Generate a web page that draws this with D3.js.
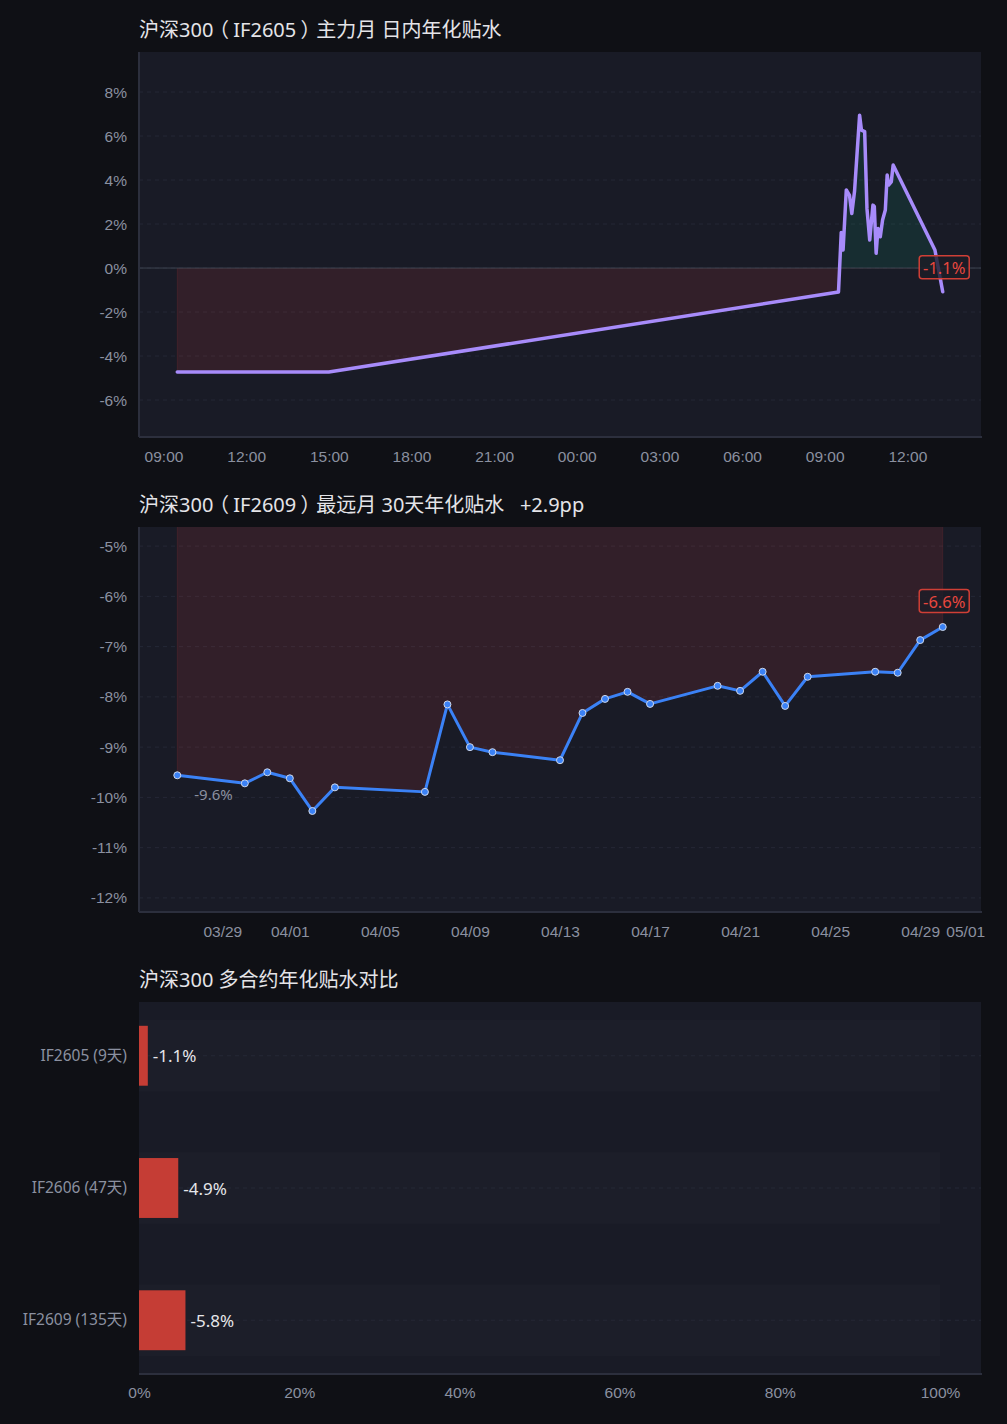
<html>
<head>
<meta charset="utf-8">
<title>沪深300 年化贴水</title>
<script src="https://cdn.jsdelivr.net/npm/d3@7"></script>
<style>
  body { margin: 0; background: #0f1015; }
  svg { display: block; font-family: "Noto Sans", "Noto Sans CJK SC", sans-serif; }
  .tick text { fill: #8b90a0; font-size: 15.5px; }
  .title { fill: #e4e4e8; font-size: 20px; white-space: pre; font-family: "Noto Sans", "Noto Sans CJK SC", sans-serif; }
  .title .br { font-family: "Noto Sans CJK SC", sans-serif; font-feature-settings: "palt" 1; }
</style>
</head>
<body>
<div id="chart"></div>
<script>
// ---- chart 1: IF2605 intraday annualised basis (%)
var intraTimes = [
  "2026-04-29 09:30", "2026-04-29 15:00",
  "2026-04-30 09:30", "2026-04-30 09:36", "2026-04-30 09:40", "2026-04-30 09:47",
  "2026-04-30 09:54", "2026-04-30 09:59", "2026-04-30 10:05", "2026-04-30 10:16",
  "2026-04-30 10:20", "2026-04-30 10:27", "2026-04-30 10:32", "2026-04-30 10:38",
  "2026-04-30 10:45", "2026-04-30 10:48", "2026-04-30 10:52", "2026-04-30 10:56",
  "2026-04-30 11:01", "2026-04-30 11:06", "2026-04-30 11:12", "2026-04-30 11:16",
  "2026-04-30 11:19", "2026-04-30 11:25", "2026-04-30 11:29", "2026-04-30 13:00",
  "2026-04-30 13:17"
];
var intraValues = [
  -4.73, -4.73,
  -1.09, 1.62, 0.82, 3.55,
  3.30, 2.48, 3.50, 6.95,
  6.27, 6.20, 2.70, 1.27,
  2.86, 2.80, 0.67, 1.80,
  1.42, 2.18, 2.64, 4.23,
  3.77, 3.92, 4.68, 0.82,
  -1.08
];
var intraYTicks = [-6, -4, -2, 0, 2, 4, 6, 8];

// ---- chart 2: IF2609 30-day annualised basis (%)
var dailyDates = [
  "2026-03-27", "2026-03-30", "2026-03-31", "2026-04-01", "2026-04-02", "2026-04-03",
  "2026-04-07", "2026-04-08", "2026-04-09", "2026-04-10", "2026-04-13", "2026-04-14",
  "2026-04-15", "2026-04-16", "2026-04-17", "2026-04-20", "2026-04-21", "2026-04-22",
  "2026-04-23", "2026-04-24", "2026-04-27", "2026-04-28", "2026-04-29", "2026-04-30"
];
var dailyValues = [
  -9.56, -9.72, -9.50, -9.62, -10.27, -9.80,
  -9.89, -8.15, -9.00, -9.10, -9.26, -8.32,
  -8.04, -7.90, -8.14, -7.78, -7.88, -7.50,
  -8.18, -7.60, -7.50, -7.52, -6.87, -6.61
];
var dailyYTicks = [-12, -11, -10, -9, -8, -7, -6, -5];

// ---- chart 3: contracts comparison
var contracts = ["IF2605 (9天)", "IF2606 (47天)", "IF2609 (135天)"];
var contractValues = [-1.1, -4.9, -5.8];
var barXTicks = [0, 20, 40, 60, 80, 100];

var W = 1007, H = 1424;
var left = 139, right = 981;
var bg = "#191b26", gridColor = "#252836", axisColor = "#2c2f3d";

var svg = d3.select("#chart").append("svg").attr("width", W).attr("height", H);
svg.append("rect").attr("width", W).attr("height", H).attr("fill", "#0f1015");

function padExtent(ext, f) {
  var span = ext[1] - ext[0];
  return [new Date(+ext[0] - span * f), new Date(+ext[1] + span * f)];
}

function frame(top, bottom, title, id) {
  var t = svg.append("text").attr("class", "title").attr("x", left).attr("y", top - 15);
  // full-width brackets: proportional glyph, padded back out to a full em so it sits centred
  var carry = 0;
  title.split(/([（）])/).forEach(function(part) {
    if (!part) return;
    var s = t.append("tspan").text(part);
    if (carry) s.attr("dx", carry);
    carry = 0;
    if (part === "（" || part === "）") {
      s.attr("class", "br");
      var pad = Math.max(0, (20 - s.node().getComputedTextLength()) / 2);
      s.attr("dx", pad);
      carry = pad;
    }
  });
  svg.append("rect").attr("x", left).attr("y", top).attr("width", right - left)
    .attr("height", bottom - top).attr("fill", bg);
  svg.append("clipPath").attr("id", id).append("rect")
    .attr("x", left).attr("y", top).attr("width", right - left).attr("height", bottom - top);
}

function axisLines(top, bottom) {
  svg.append("line").attr("x1", left).attr("x2", left).attr("y1", top).attr("y2", bottom)
    .attr("stroke", axisColor).attr("stroke-width", 2);
  svg.append("line").attr("x1", left).attr("x2", right + 1).attr("y1", bottom).attr("y2", bottom)
    .attr("stroke", axisColor).attr("stroke-width", 2);
}

function yAxisGrid(y, ticks, top, bottom) {
  svg.append("g").selectAll("line").data(ticks).enter().append("line")
    .attr("x1", left).attr("x2", right).attr("y1", function(d) { return y(d); })
    .attr("y2", function(d) { return y(d); })
    .attr("stroke", gridColor).attr("stroke-dasharray", "4,4");
  var g = svg.append("g").attr("transform", "translate(" + left + ",0)")
    .call(d3.axisLeft(y).tickValues(ticks).tickSize(0).tickPadding(12)
      .tickFormat(function(d) { return d + "%"; }));
  g.select(".domain").remove();
}

function valueLabel(cx, cy, text) {
  var g = svg.append("g");
  g.append("rect").attr("x", cx - 25).attr("y", cy - 12).attr("width", 50).attr("height", 23)
    .attr("rx", 3).attr("fill", "#1b1d27").attr("fill-opacity", 0.8)
    .attr("stroke", "#cf3f36").attr("stroke-width", 1.5);
  g.append("text").attr("x", cx).attr("y", cy).attr("text-anchor", "middle")
    .attr("dominant-baseline", "central").attr("fill", "#e8473e").attr("font-size", 16.5).text(text);
}

// ================= chart 1 =================
(function() {
  var top = 52, bottom = 437;
  frame(top, bottom, "沪深300（IF2605）主力月 日内年化贴水", "clip1");
  var parse = d3.timeParse("%Y-%m-%d %H:%M");
  var data = intraTimes.map(function(t, i) { return { t: parse(t), v: intraValues[i] }; });
  var x = d3.scaleTime().domain(padExtent(d3.extent(data, function(d) { return d.t; }), 0.05))
    .range([left, right]);
  var y = d3.scaleLinear().domain([-7.68, 9.82]).range([bottom, top]);

  yAxisGrid(y, intraYTicks, top, bottom);

  var y0 = y(0);
  var defs = svg.append("defs");
  defs.append("clipPath").attr("id", "pos1").append("rect")
    .attr("x", left).attr("y", top).attr("width", right - left).attr("height", y0 - top);
  defs.append("clipPath").attr("id", "neg1").append("rect")
    .attr("x", left).attr("y", y0).attr("width", right - left).attr("height", bottom - y0);

  var area = d3.area().x(function(d) { return x(d.t); }).y0(y0).y1(function(d) { return y(d.v); });
  svg.append("path").datum(data).attr("d", area).attr("clip-path", "url(#pos1)")
    .attr("fill", "rgba(16,185,129,0.12)");
  svg.append("path").datum(data).attr("d", area).attr("clip-path", "url(#neg1)")
    .attr("fill", "rgba(239,68,68,0.12)").attr("stroke", "rgba(239,68,68,0.12)");

  svg.append("line").attr("x1", left).attr("x2", right).attr("y1", y0).attr("y2", y0)
    .attr("stroke", "#3d4450").attr("stroke-width", 1);

  svg.append("path").datum(data)
    .attr("fill", "none").attr("stroke", "#a78bfa").attr("stroke-width", 3.5)
    .attr("stroke-linejoin", "round").attr("stroke-linecap", "round")
    .attr("d", d3.line().x(function(d) { return x(d.t); }).y(function(d) { return y(d.v); }));

  axisLines(top, bottom);
  var gx = svg.append("g").attr("transform", "translate(0," + bottom + ")")
    .call(d3.axisBottom(x).ticks(d3.timeHour.every(3)).tickSize(0).tickPadding(14)
      .tickFormat(d3.timeFormat("%H:%M")));
  gx.select(".domain").remove();

  var last = data[data.length - 1];
  valueLabel(x(last.t) + 1.5, y(last.v) - 24, last.v.toFixed(1) + "%");
})();

// ================= chart 2 =================
(function() {
  var top = 527, bottom = 912;
  frame(top, bottom, "沪深300（IF2609）最远月 30天年化贴水   +2.9pp", "clip2");
  var parse = d3.timeParse("%Y-%m-%d");
  var data = dailyDates.map(function(t, i) { return { t: parse(t), v: dailyValues[i] }; });
  var x = d3.scaleTime().domain(padExtent(d3.extent(data, function(d) { return d.t; }), 0.05))
    .range([left, right]);
  var y = d3.scaleLinear().domain([-12.28, -4.62]).range([bottom, top]);

  yAxisGrid(y, dailyYTicks, top, bottom);

  svg.append("path").datum(data).attr("clip-path", "url(#clip2)")
    .attr("fill", "rgba(239,68,68,0.12)").attr("stroke", "rgba(239,68,68,0.12)")
    .attr("d", d3.area().x(function(d) { return x(d.t); }).y0(y(0)).y1(function(d) { return y(d.v); }));

  svg.append("path").datum(data)
    .attr("fill", "none").attr("stroke", "#3b82f6").attr("stroke-width", 3)
    .attr("stroke-linejoin", "round")
    .attr("d", d3.line().x(function(d) { return x(d.t); }).y(function(d) { return y(d.v); }));

  svg.append("g").selectAll("circle").data(data).enter().append("circle")
    .attr("cx", function(d) { return x(d.t); }).attr("cy", function(d) { return y(d.v); })
    .attr("r", 3.5).attr("fill", "#3b82f6").attr("stroke", "#cfd8ea").attr("stroke-width", 1);

  axisLines(top, bottom);
  var gx = svg.append("g").attr("transform", "translate(0," + bottom + ")")
    .call(d3.axisBottom(x).ticks(d3.timeDay.every(4)).tickSize(0).tickPadding(14)
      .tickFormat(d3.timeFormat("%m/%d")));
  gx.select(".domain").remove();

  var first = data[0], last = data[data.length - 1];
  svg.append("text").attr("x", x(first.t) + 17).attr("y", y(first.v) + 19)
    .attr("dominant-baseline", "central").attr("fill", "#8b90a0").attr("font-size", 15)
    .text(first.v.toFixed(1) + "%");
  valueLabel(x(last.t) + 1.5, y(last.v) - 25.5, last.v.toFixed(1) + "%");
})();

// ================= chart 3 =================
(function() {
  var top = 1002, bottom = 1374;
  frame(top, bottom, "沪深300 多合约年化贴水对比", "clip3");
  var x = d3.scaleLinear().domain([0, 100]).range([left, 940]);
  var y = d3.scaleBand().domain(contracts).range([top, bottom]).paddingInner(0.547).paddingOuter(0.18);
  var bw = y.bandwidth();

  svg.append("g").selectAll("rect").data(contracts).enter().append("rect")
    .attr("x", x(0)).attr("width", x(100) - x(0))
    .attr("y", function(d) { return y(d) - 6; }).attr("height", bw + 12)
    .attr("fill", "rgba(255,255,255,0.014)");

  svg.append("g").selectAll("line").data(contracts).enter().append("line")
    .attr("x1", left).attr("x2", right)
    .attr("y1", function(d) { return y(d) + bw / 2; }).attr("y2", function(d) { return y(d) + bw / 2; })
    .attr("stroke", gridColor).attr("stroke-dasharray", "4,4");

  svg.append("g").selectAll("rect").data(contracts).enter().append("rect")
    .attr("x", x(0)).attr("y", function(d) { return y(d); }).attr("height", bw)
    .attr("width", function(d, i) { return x(Math.abs(contractValues[i])) - x(0); })
    .attr("fill", "#c53d35");

  svg.append("g").selectAll("text").data(contracts).enter().append("text")
    .attr("x", function(d, i) { return x(Math.abs(contractValues[i])) + 5; })
    .attr("y", function(d) { return y(d) + bw / 2; })
    .attr("dominant-baseline", "central").attr("fill", "#e6e6ea").attr("font-size", 17)
    .text(function(d, i) { return contractValues[i].toFixed(1) + "%"; });

  var gy = svg.append("g").attr("transform", "translate(" + left + ",0)")
    .call(d3.axisLeft(y).tickSize(0).tickPadding(12));
  gy.select(".domain").remove();
  gy.selectAll("text").style("font-family", "'Noto Sans', 'Noto Sans CJK SC', sans-serif");

  svg.append("line").attr("x1", left).attr("x2", right + 1).attr("y1", bottom).attr("y2", bottom)
    .attr("stroke", axisColor).attr("stroke-width", 2);
  var gx = svg.append("g").attr("transform", "translate(0," + bottom + ")")
    .call(d3.axisBottom(x).tickValues(barXTicks).tickSize(0).tickPadding(13)
      .tickFormat(function(d) { return d + "%"; }));
  gx.select(".domain").remove();
})();
</script>
</body>
</html>
